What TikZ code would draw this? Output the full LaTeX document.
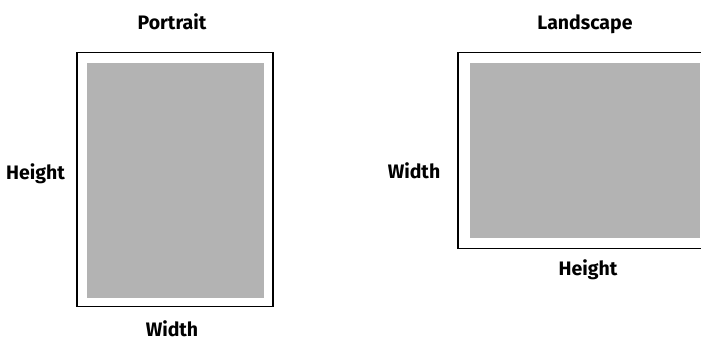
\documentclass[tikz,border=0pt]{standalone}
\usepackage{fontspec}
\setmainfont{Fira Sans}
\usepackage{tikz}
\usetikzlibrary{positioning}
\definecolor{paper}{HTML}{B3B3B3}
\tikzset{
  lbl/.style={font=\bfseries\fontsize{19.5}{22}\selectfont, anchor=base, inner sep=0pt},
  sheet/.style={line width=1.4pt},
  printarea/.style={fill=paper}
}
\begin{document}
\begin{tikzpicture}[x=1pt, y=-1pt]
    \useasboundingbox (0,0) rectangle (701,341);
    % portrait
    \draw [sheet] (77,52.7) rectangle (273,306.7);
    \fill [printarea] (87,63) rectangle (264,297.7);
    \node [lbl] (ptitle) at (172,29.3) {Portrait};
    \node [lbl] (pheight) at (35.5,179.3) {Height};
    \node [lbl] (pwidth) at (172,336) {Width};
    % landscape
    \draw [sheet] (703,52.7) -- (458,52.7) -- (458,248.7) -- (703,248.7);
    \fill [printarea] (470,63) rectangle (700,237.7);
    \node [lbl] (ltitle) at (585,29.5) {Landscape};
    \node [lbl] (lwidth) at (414,178.3) {Width};
    \node [lbl] (lheight) at (588,275) {Height};
\end{tikzpicture}
\end{document}
